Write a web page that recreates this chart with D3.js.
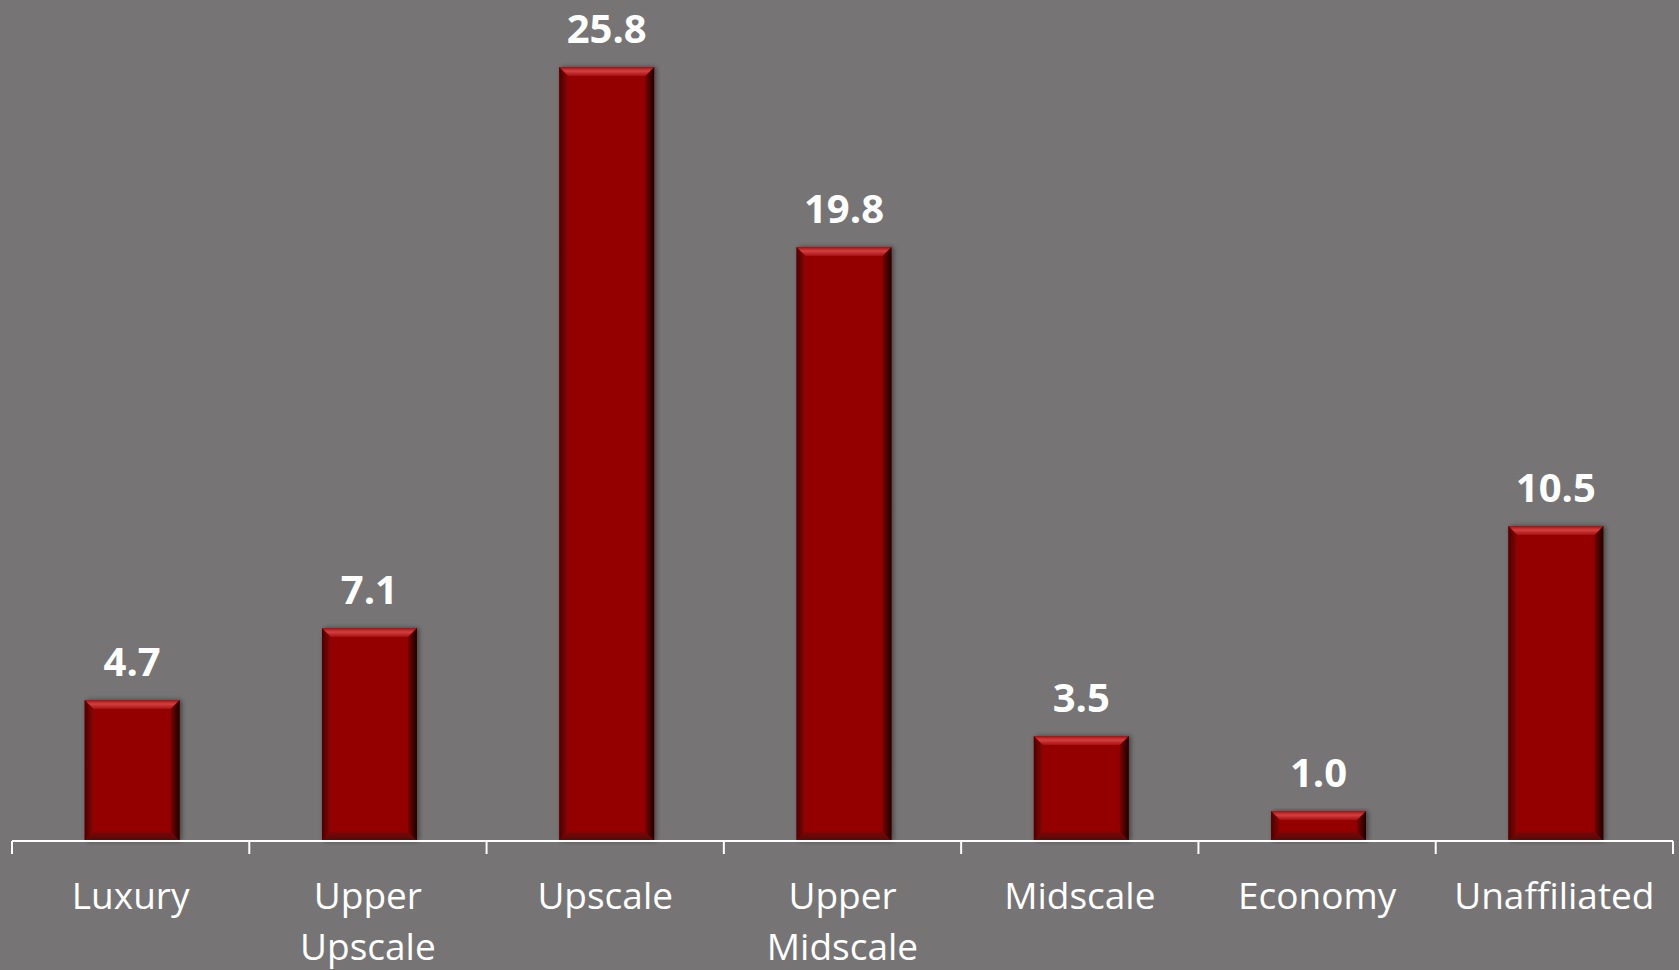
<!DOCTYPE html>
<html>
<head>
<meta charset="utf-8">
<script src="https://cdn.jsdelivr.net/npm/d3@7"></script>
<style>
  html, body { margin: 0; padding: 0; background: #767475; }
  svg { display: block; }
</style>
</head>
<body>
<svg id="chart" width="1679" height="970"></svg>
<script>
// Hotel segments and their values
const categories = ["Luxury", "Upper Upscale", "Upscale", "Upper Midscale", "Midscale", "Economy", "Unaffiliated"];
const categoryLines = [["Luxury"], ["Upper", "Upscale"], ["Upscale"], ["Upper", "Midscale"], ["Midscale"], ["Economy"], ["Unaffiliated"]];
const values = [4.7, 7.1, 25.8, 19.8, 3.5, 1.0, 10.5];

const W = 1679, H = 970;
const axisY = 841;
const svg = d3.select("#chart");

svg.append("rect").attr("width", W).attr("height", H).attr("fill", "#767475");

const x = d3.scaleBand()
  .domain(categories)
  .range([12, 1673])
  .paddingInner(0.6)
  .paddingOuter(0.3);

const y = d3.scaleLinear().domain([0, 28]).range([axisY, 1]);

const defs = svg.append("defs");

// soft shadow behind each bar
const shadow = defs.append("filter").attr("id", "barShadow")
  .attr("x", "-20%").attr("y", "-10%").attr("width", "140%").attr("height", "120%");
shadow.append("feDropShadow").attr("dx", 2).attr("dy", 0).attr("stdDeviation", 2.5)
  .attr("flood-color", "#000").attr("flood-opacity", 0.45);

// gradients for the bevelled faces
const gTop = defs.append("linearGradient").attr("id", "bevTop").attr("x1", 0).attr("y1", 0).attr("x2", 0).attr("y2", 1);
gTop.append("stop").attr("offset", "0%").attr("stop-color", "#a80d10");
gTop.append("stop").attr("offset", "45%").attr("stop-color", "#d2403f");
gTop.append("stop").attr("offset", "100%").attr("stop-color", "#a51012");

const gRight = defs.append("linearGradient").attr("id", "bevRight").attr("x1", 0).attr("y1", 0).attr("x2", 1).attr("y2", 0);
gRight.append("stop").attr("offset", "0%").attr("stop-color", "#7a0303");
gRight.append("stop").attr("offset", "100%").attr("stop-color", "#1a0000");

const gLeft = defs.append("linearGradient").attr("id", "bevLeft").attr("x1", 0).attr("y1", 0).attr("x2", 1).attr("y2", 0);
gLeft.append("stop").attr("offset", "0%").attr("stop-color", "#4a0000");
gLeft.append("stop").attr("offset", "100%").attr("stop-color", "#8c0505");

const gBottom = defs.append("linearGradient").attr("id", "bevBottom").attr("x1", 0).attr("y1", 0).attr("x2", 0).attr("y2", 1);
gBottom.append("stop").attr("offset", "0%").attr("stop-color", "#7d0505");
gBottom.append("stop").attr("offset", "100%").attr("stop-color", "#4e0c0c");

const data = categories.map((c, i) => ({ cat: c, lines: categoryLines[i], v: values[i] }));

const bars = svg.append("g").attr("transform", "translate(1.5,0)")
  .selectAll("g.bar").data(data).join("g").attr("class", "bar");
const bev = 9;

bars.each(function (d) {
  const g = d3.select(this);
  const x0 = x(d.cat), x1 = x0 + x.bandwidth();
  const y0 = y(d.v), y1 = y(0);
  const b = Math.min(bev, (y1 - y0) / 2);
  g.append("rect").attr("x", x0).attr("y", y0).attr("width", x1 - x0).attr("height", y1 - y0)
    .attr("fill", "#940505").attr("filter", "url(#barShadow)");
  const poly = (pts, fill) => g.append("polygon")
    .attr("points", pts.map(p => p.join(",")).join(" ")).attr("fill", fill);
  poly([[x0, y0], [x0 + b, y0 + b], [x0 + b, y1 - b], [x0, y1]], "url(#bevLeft)");
  poly([[x1, y0], [x1, y1], [x1 - b, y1 - b], [x1 - b, y0 + b]], "url(#bevRight)");
  poly([[x0, y1], [x0 + b, y1 - b], [x1 - b, y1 - b], [x1, y1]], "url(#bevBottom)");
  poly([[x0, y0], [x1, y0], [x1 - b, y0 + b], [x0 + b, y0 + b]], "url(#bevTop)");
});

// value labels above bars
svg.append("g").selectAll("text").data(data).join("text")
  .attr("x", d => x(d.cat) + x.bandwidth() / 2 + 1.5)
  .attr("y", d => y(d.v) - 24)
  .attr("text-anchor", "middle")
  .attr("font-family", "'Open Sans', sans-serif")
  .attr("font-weight", 700)
  .attr("font-size", 40)
  .attr("fill", "#ffffff")
  .text(d => d.v.toFixed(1));

// category axis: baseline with boundary ticks
const axis = svg.append("g");
const step = x.step();
const bounds = d3.range(categories.length + 1).map(i => 12 + i * step);
axis.append("line").attr("x1", 12).attr("x2", 1673).attr("y1", axisY).attr("y2", axisY)
  .attr("stroke", "#ffffff").attr("stroke-width", 2);
axis.selectAll("line.tick").data(bounds).join("line").attr("class", "tick")
  .attr("x1", d => d).attr("x2", d => d).attr("y1", axisY).attr("y2", axisY + 13)
  .attr("stroke", "#ffffff").attr("stroke-width", 2);

const labels = svg.append("g").selectAll("text").data(data).join("text")
  .attr("x", d => x(d.cat) + x.bandwidth() / 2)
  .attr("y", 909)
  .attr("text-anchor", "middle")
  .attr("font-family", "'Open Sans', sans-serif")
  .attr("font-size", 37)
  .attr("fill", "#ffffff");
labels.each(function (d) {
  const t = d3.select(this);
  d.lines.forEach((ln, i) => {
    t.append("tspan").attr("x", x(d.cat) + x.bandwidth() / 2).attr("dy", i === 0 ? 0 : 51).text(ln);
  });
});
</script>
</body>
</html>
